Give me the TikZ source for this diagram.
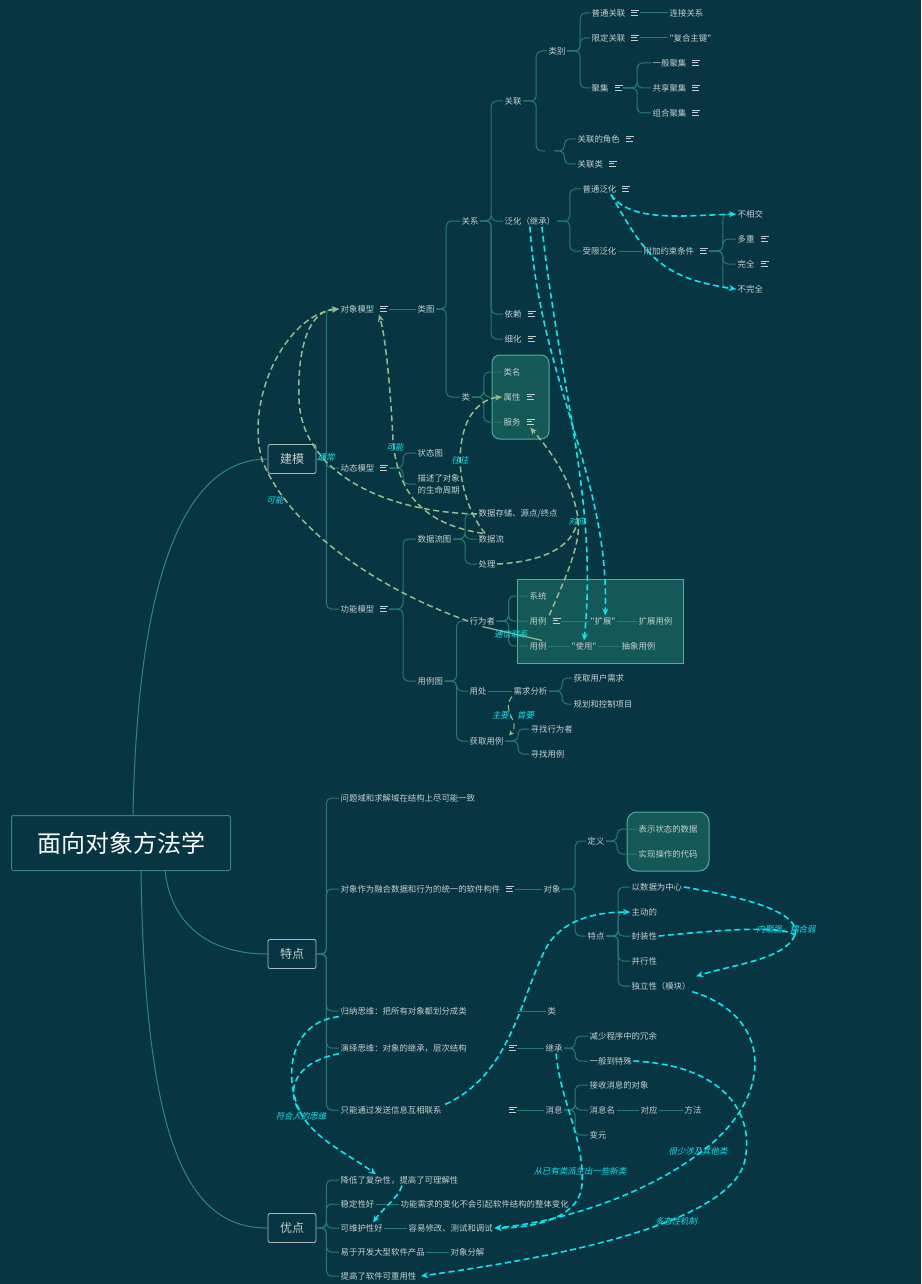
\documentclass[tikz,border=0pt]{standalone}
\usepackage{fontspec}
\usepackage{xcolor}
\usepackage{tikz}
\usetikzlibrary{arrows.meta,positioning}

\newfontfamily\cjk{Noto Sans CJK SC}
\newfontfamily\cjkslant[FakeSlant=0.22]{Noto Sans CJK SC}

\definecolor{bg}{RGB}{7,54,66}
\definecolor{branchcol}{RGB}{38,122,116}
\definecolor{rootline}{RGB}{45,135,128}
\definecolor{txt}{RGB}{200,206,206}
\definecolor{boxline}{RGB}{175,185,185}
\definecolor{panel}{RGB}{20,88,88}
\definecolor{panelline}{RGB}{72,178,158}
\definecolor{relcyan}{RGB}{0,232,240}
\definecolor{relsage}{RGB}{150,188,140}

% little note icon shown after some topics
\newcommand\memo{\hspace{6pt}\rlap{\rule[5pt]{8pt}{1pt}}\rlap{\rule[2.8pt]{5.5pt}{1pt}}\rule[0.6pt]{7pt}{1pt}}

\begin{document}
\begin{tikzpicture}[x=1pt, y=-1pt,
    topic/.style={anchor=west, inner sep=1.5pt, text=txt, font=\cjk\fontsize{8.4}{12}\selectfont},
    mainbox/.style={draw=boxline, line width=0.8pt, rounded corners=2pt, fill=bg, text=txt,
      minimum width=48pt, minimum height=29pt, inner sep=0pt, font=\cjk\fontsize{12}{14}\selectfont},
    rootbox/.style={draw=rootline, line width=1pt, rounded corners=2pt, fill=bg, text=white,
      minimum width=219pt, minimum height=55pt, font=\cjk\fontsize{24}{28}\selectfont},
    branch/.style={draw=branchcol, line width=1pt, rounded corners=5pt},
    relc/.style={draw=relcyan, line width=1.6pt, dash pattern=on 6pt off 3.5pt, -{Stealth[length=7pt,width=6pt]}},
    rels/.style={draw=relsage, line width=1.5pt, dash pattern=on 6pt off 3.5pt, -{Stealth[length=7pt,width=6pt]}},
    rellabel/.style={text=relcyan, inner sep=1pt, font=\cjkslant\fontsize{8.4}{10}\selectfont},
  ]
  \fill[bg] (0,0) rectangle (921,1284);
  \useasboundingbox (0,0) rectangle (921,1284);

  % shaded panels, drawn first so the topics sit on top
  \draw[draw=panelline, fill=panel, line width=1pt, rounded corners=8pt] (492,355) rectangle (549,439);
  \draw[draw=panelline, fill=panel, line width=0.8pt] (517,579) rectangle (683,663);
  \draw[draw=panelline, fill=panel, line width=1pt, rounded corners=10pt] (627,812) rectangle (709,871);

  \node[rootbox] (root) at (121,843) {面向对象方法学};
  \node[mainbox] (jianmo) at (292,459) {建模};
  \node[mainbox] (tedian) at (292,954) {特点};
  \node[mainbox] (youdian) at (292,1228) {优点};

  % 建模
  \node[topic] (dxmx) at (339,309) {对象模型\memo};
  \node[topic] (dtmx) at (339,468) {动态模型\memo};
  \node[topic] (gnmx) at (339,609) {功能模型\memo};
  \node[topic] (leitu) at (416,309) {类图};
  \node[topic] (guanxi) at (460,221) {关系};
  \node[topic] (lei) at (460,397) {类};
  \node[topic] (guanlian) at (503,101) {关联};
  \node[topic] (fanhua) at (503,221) {泛化（继承）};
  \node[topic] (yilai) at (503,314) {依赖\memo};
  \node[topic] (xihua) at (503,339) {细化\memo};
  \node[topic] (leibie) at (547,51) {类别};
  \node[topic, minimum width=9pt] (glkong) at (545,151) {};
  \node[topic] (gljs) at (576,139) {关联的角色\memo};
  \node[topic] (gll) at (576,164) {关联类\memo};
  \node[topic] (ptgl) at (590,13) {普通关联\memo};
  \node[topic] (xdgl) at (590,38) {限定关联\memo};
  \node[topic] (juji) at (590,88) {聚集\memo};
  \node[topic] (ljgx) at (668,13) {连接关系};
  \node[topic] (fhzj) at (668,38) {"复合主键"};
  \node[topic] (ybjj) at (651,63) {一般聚集\memo};
  \node[topic] (gxjj) at (651,88) {共享聚集\memo};
  \node[topic] (zhjj) at (651,113) {组合聚集\memo};
  \node[topic] (ptfh) at (581,189) {普通泛化\memo};
  \node[topic] (sxfh) at (581,251) {受限泛化};
  \node[topic] (fjys) at (642,251) {附加约束条件\memo};
  \node[topic] (bxj) at (736,214) {不相交};
  \node[topic] (dc) at (736,239) {多重\memo};
  \node[topic] (wq) at (736,264) {完全\memo};
  \node[topic] (bwq) at (736,289) {不完全};
  \node[topic] (leiming) at (502,372) {类名};
  \node[topic] (shuxing) at (502,397) {属性\memo};
  \node[topic] (fuwu) at (502,422) {服务\memo};
  \node[topic] (ztt) at (416,453) {状态图};
  \node[topic, align=left] (smzq) at (416,484) {描述了对象\\的生命周期};
  \node[topic] (sjlt) at (416,539) {数据流图};
  \node[topic] (ylt) at (416,681) {用例图};
  \node[topic] (sjcc) at (477,514) {数据存储、源点/终点};
  \node[topic] (sjl) at (477,539) {数据流};
  \node[topic] (chuli) at (477,564) {处理};
  \node[topic] (xwz) at (468,621) {行为者};
  \node[topic] (yongchu) at (468,691) {用处};
  \node[topic] (hqyl) at (468,741) {获取用例};
  \node[topic] (xitong) at (528,596) {系统};
  \node[topic] (yl1) at (528,621) {用例\memo};
  \node[topic] (yl2) at (528,646) {用例};
  \node[topic] (kuozhan) at (589,621) {"扩展"};
  \node[topic] (kzyl) at (637,621) {扩展用例};
  \node[topic] (shiyong) at (570,646) {"使用"};
  \node[topic] (cxyl) at (620,646) {抽象用例};
  \node[topic] (xqfx) at (512,691) {需求分析};
  \node[topic] (hqyh) at (572,678) {获取用户需求};
  \node[topic] (ghkz) at (572,704) {规划和控制项目};
  \node[topic] (zxwz) at (529,729) {寻找行为者};
  \node[topic] (zyl) at (529,754) {寻找用例};

  % 特点
  \node[topic] (wtj) at (339,798) {问题域和求解域在结构上尽可能一致};
  \node[topic] (dxgj) at (339,889) {对象作为融合数据和行为的统一的软件构件\memo};
  \node[topic] (gnsw) at (339,1011) {\makebox[162pt][l]{归纳思维：把所有对象都划分成类}\phantom{\memo}};
  \node[topic] (yysw) at (339,1048) {\makebox[162pt][l]{演绎思维：对象的继承，层次结构}\memo};
  \node[topic] (fsxx) at (339,1110) {\makebox[162pt][l]{只能通过发送信息互相联系}\memo};
  \node[topic] (duixiang) at (542,889) {对象};
  \node[topic] (lei2) at (546,1011) {类};
  \node[topic] (jicheng) at (544,1048) {继承};
  \node[topic] (xiaoxi) at (544,1110) {消息};
  \node[topic] (dingyi) at (586,841) {定义};
  \node[topic] (tdian) at (586,936) {特点};
  \node[topic] (bszt) at (637,829) {表示状态的数据};
  \node[topic] (sxcz) at (637,854) {实现操作的代码};
  \node[topic] (sjzx) at (630,887) {以数据为中心};
  \node[topic] (zdd) at (630,912) {主动的};
  \node[topic] (fzx) at (630,936) {封装性};
  \node[topic] (bxx) at (630,961) {并行性};
  \node[topic] (dlx) at (630,986) {独立性（模块）};
  \node[topic] (jscy) at (588,1036) {减少程序中的冗余};
  \node[topic] (ybts) at (588,1061) {一般到特殊};
  \node[topic] (jsxx) at (588,1085) {接收消息的对象};
  \node[topic] (xxm) at (588,1110) {消息名};
  \node[topic] (duiying) at (639,1110) {对应};
  \node[topic] (fangfa) at (683,1110) {方法};
  \node[topic] (bianyuan) at (588,1135) {变元};

  % 优点
  \node[topic] (jdfz) at (339,1180) {降低了复杂性，提高了可理解性};
  \node[topic] (wdx) at (339,1204) {稳定性好};
  \node[topic] (whx) at (339,1228) {可维护性好};
  \node[topic] (yykf) at (339,1252) {易于开发大型软件产品};
  \node[topic] (cyyx) at (339,1276) {提高了软件可重用性};
  \node[topic] (gnbh) at (399,1204) {功能需求的变化不会引起软件结构的整体变化};
  \node[topic] (yyxg) at (407,1228) {容易修改、测试和调试};
  \node[topic] (dxfj) at (449,1252) {对象分解};

  % tree lines
  \draw[branch, draw=rootline] ([xshift=12pt]root.north) .. controls (138,560) and (190,459) .. (jianmo.west);
  \draw[branch, draw=rootline] ([xshift=44pt]root.south) .. controls (172,930) and (215,954) .. (tedian.west);
  \draw[branch, draw=rootline] ([xshift=20pt]root.south) .. controls (145,1150) and (190,1228) .. (youdian.west);

  \foreach \c in {dxmx,dtmx,gnmx} \draw[branch] (jianmo.east) -- ++(10,0) |- (\c.west);
  \draw[branch] (dxmx.east) -- (leitu.west);
  \foreach \c in {guanxi,lei} \draw[branch] (leitu.east) -- ++(10,0) |- (\c.west);
  \foreach \c in {guanlian,fanhua,yilai,xihua} \draw[branch] (guanxi.east) -- ++(11,0) |- (\c.west);
  \foreach \c in {leibie,glkong} \draw[branch] (guanlian.east) -- ++(13,0) |- (\c.west);
  \foreach \c in {ptgl,xdgl,juji} \draw[branch] (leibie.east) -- ++(13,0) |- (\c.west);
  \draw[branch] (ptgl.east) -- (ljgx.west);
  \draw[branch] (xdgl.east) -- (fhzj.west);
  \foreach \c in {ybjj,gxjj,zhjj} \draw[branch] (juji.east) -- ++(14,0) |- (\c.west);
  \foreach \c in {gljs,gll} \draw[branch] (glkong.east) -- ++(10,0) |- (\c.west);
  \foreach \c in {ptfh,sxfh} \draw[branch] (fanhua.east) -- ++(13,0) |- (\c.west);
  \draw[branch] (sxfh.east) -- (fjys.west);
  \foreach \c in {bxj,dc,wq,bwq} \draw[branch] (fjys.east) -- ++(14,0) |- (\c.west);
  \foreach \c in {leiming,shuxing,fuwu} \draw[branch] (lei.east) -- ++(12,0) |- (\c.west);
  \foreach \c in {ztt,smzq} \draw[branch] (dtmx.east) -- ++(14,0) |- (\c.west);
  \foreach \c in {sjlt,ylt} \draw[branch] (gnmx.east) -- ++(14,0) |- (\c.west);
  \foreach \c in {sjcc,sjl,chuli} \draw[branch] (sjlt.east) -- ++(12,0) |- (\c.west);
  \foreach \c in {xwz,yongchu,hqyl} \draw[branch] (ylt.east) -- ++(12,0) |- (\c.west);
  \foreach \c in {xitong,yl1,yl2} \draw[branch] (xwz.east) -- ++(12,0) |- (\c.west);
  \draw[branch] (yl1.east) -- (kuozhan.west);
  \draw[branch] (kuozhan.east) -- (kzyl.west);
  \draw[branch] (yl2.east) -- (shiyong.west);
  \draw[branch] (shiyong.east) -- (cxyl.west);
  \draw[branch] (yongchu.east) -- (xqfx.west);
  \foreach \c in {hqyh,ghkz} \draw[branch] (xqfx.east) -- ++(13,0) |- (\c.west);
  \foreach \c in {zxwz,zyl} \draw[branch] (hqyl.east) -- ++(13,0) |- (\c.west);

  \foreach \c in {wtj,dxgj,gnsw,yysw,fsxx} \draw[branch] (tedian.east) -- ++(10,0) |- (\c.west);
  \draw[branch] (dxgj.east) -- (duixiang.west);
  \draw[branch] (gnsw.east) -- (lei2.west);
  \draw[branch] (yysw.east) -- (jicheng.west);
  \draw[branch] (fsxx.east) -- (xiaoxi.west);
  \foreach \c in {dingyi,tdian} \draw[branch] (duixiang.east) -- ++(13,0) |- (\c.west);
  \foreach \c in {bszt,sxcz} \draw[branch] (dingyi.east) -- ++(11,0) |- (\c.west);
  \foreach \c in {sjzx,zdd,fzx,bxx,dlx} \draw[branch] (tdian.east) -- ++(12,0) |- (\c.west);
  \foreach \c in {jscy,ybts} \draw[branch] (jicheng.east) -- ++(11,0) |- (\c.west);
  \foreach \c in {jsxx,xxm,bianyuan} \draw[branch] (xiaoxi.east) -- ++(11,0) |- (\c.west);
  \draw[branch] (xxm.east) -- (duiying.west);
  \draw[branch] (duiying.east) -- (fangfa.west);

  \foreach \c in {jdfz,wdx,whx,yykf,cyyx} \draw[branch] (youdian.east) -- ++(10,0) |- (\c.west);
  \draw[branch] (wdx.east) -- (gnbh.west);
  \draw[branch] (whx.east) -- (yyxg.west);
  \draw[branch] (yykf.east) -- (dxfj.west);

  % relations of the model part
  \coordinate (duiyingpt) at (578,518);
  \draw[rels] (sjcc.west) .. controls (380,512) and (302,470) .. (299,400) .. controls (297,345) and (310,310) .. (dxmx.west);
  \draw[rels] (xwz.west) .. controls (380,590) and (290,530) .. (262,460) .. controls (245,400) and (285,315) .. (dxmx.west);
  \draw[rels] ([xshift=6pt]sjl.north west) .. controls (430,525) and (398,500) .. (393,440) .. controls (390,380) and (385,335) .. ([xshift=-10pt]dxmx.south east);
  \draw[rels] ([xshift=8pt]sjl.north west) .. controls (462,505) and (452,455) .. (468,420) .. controls (478,402) and (490,398) .. (shuxing.west);
  \draw[rels, -] (chuli.east) .. controls (540,562) and (575,548) .. (duiyingpt);
  \draw[rels] ([xshift=-12pt]yl1.north east) .. controls (562,585) and (582,545) .. (duiyingpt) .. controls (572,480) and (550,450) .. ([xshift=-5pt]fuwu.south east);
  \draw[relsage, line width=1.2pt] (xwz.south) -- ([xshift=14pt]yl2.north west);
  \draw[rels, line width=1pt, -{Stealth[length=5pt,width=5pt]}] (xqfx.south west) .. controls (500,712) and (522,722) .. ([xshift=4pt]hqyl.north east);
  \draw[relc] ([xshift=-20pt]ptfh.south east) .. controls (630,222) and (680,216) .. (bxj.west);
  \draw[relc] ([xshift=-20pt]ptfh.south east) .. controls (645,255) and (660,278) .. (bwq.west);
  \draw[relc] (fanhua.south) .. controls (540,380) and (610,480) .. ([xshift=2pt]kuozhan.north);
  \draw[relc] ([xshift=12pt]fanhua.south) .. controls (560,390) and (598,500) .. (shiyong.north);

  % relations of the features part
  \coordinate (njq) at (795,935);
  \coordinate (fhsw) at (300,1112);
  \draw[relc, -] (sjzx.east) .. controls (760,900) and (800,915) .. (njq);
  \draw[relc, -] (fzx.east) .. controls (720,930) and (780,925) .. (njq);
  \draw[relc] (njq) .. controls (785,960) and (730,965) .. ([shift={(4,-4)}]dlx.north east);
  \draw[relc] ([xshift=17pt]fsxx.north) .. controls (510,1075) and (520,1000) .. (545,950) .. controls (560,920) and (595,912) .. (zdd.west);
  \draw[relc, -] (gnsw.south west) .. controls (290,1022) and (283,1075) .. (fhsw);
  \draw[relc, -] (yysw.south west) .. controls (295,1062) and (285,1090) .. (fhsw);
  \draw[relc] (fhsw) .. controls (315,1140) and (350,1155) .. ([xshift=37pt]jdfz.north west);
  \draw[relc] ([xshift=63pt]jdfz.south west) .. controls (398,1198) and (385,1206) .. ([xshift=34pt]whx.north west);
  \draw[relc] ([xshift=2pt]jicheng.south) .. controls (560,1100) and (585,1140) .. (582,1185) .. controls (580,1215) and (540,1228) .. (yyxg.east);
  \draw[relc] (dlx.south east) .. controls (770,1015) and (775,1090) .. (710,1145) .. controls (650,1195) and (560,1222) .. (yyxg.east);
  \draw[relc] (ybts.east) .. controls (720,1065) and (755,1110) .. (745,1160) .. controls (730,1230) and (520,1262) .. ([xshift=3pt]cyyx.east);

  % relation labels
  \node[rellabel] (lbtc) at (326,457) {通常};
  \node[rellabel] (lbkn1) at (275,500) {可能};
  \node[rellabel] (lbkn2) at (395,447) {可能};
  \node[rellabel] (lbww) at (460,460) {往往};
  \node[rellabel] (lbdy) at (577,521) {对应};
  \node[rellabel] (lbtx) at (511,634) {通信联系};
  \node[rellabel] (lbzy) at (513,715) {主要、首要};
  \node[rellabel] (lbnj) at (786,929) {内聚强，耦合弱};
  \node[rellabel] (lbfh) at (301,1116) {符合人的思维};
  \node[rellabel] (lbps) at (580,1171) {从已有类派生出一些新类};
  \node[rellabel] (lbhs) at (698,1151) {很少涉及其他类};
  \node[rellabel] (lbdt) at (676,1221) {多态性机制};
\end{tikzpicture}
\end{document}
